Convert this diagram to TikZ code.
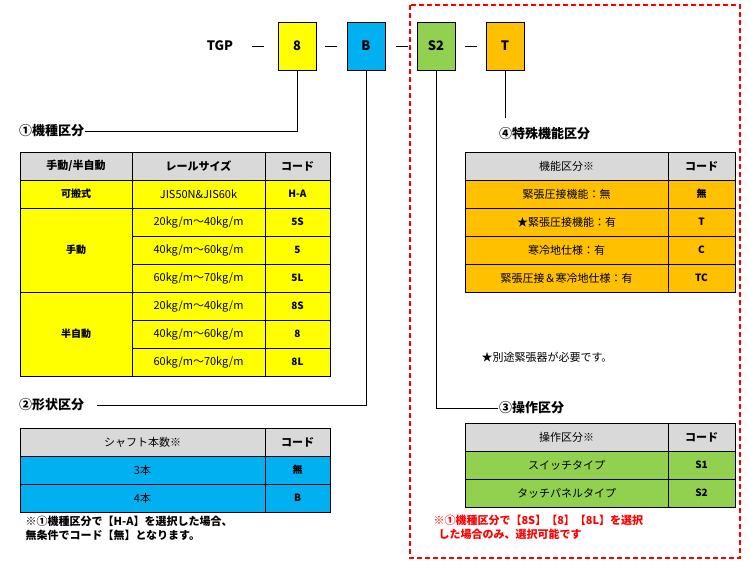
\documentclass[tikz,border=0pt]{standalone}
\usepackage{fontspec}
\setmainfont{Noto Sans CJK JP}
\usepackage{tikz}
\usetikzlibrary{positioning}
\definecolor{cyel}{HTML}{FFFF00}
\definecolor{cblu}{HTML}{00B0F0}
\definecolor{cgrn}{HTML}{92D050}
\definecolor{corg}{HTML}{FFC000}
\definecolor{cgry}{HTML}{D9D9D9}
\definecolor{cred}{HTML}{FF0000}
\begin{document}
\begin{tikzpicture}[
  x=1pt, y=-1pt,
  font=\fontsize{11}{13}\selectfont,
  code/.style={draw, minimum width=38pt, minimum height=48pt, inner sep=0, font=\fontsize{13}{15}\selectfont\bfseries},
  cell/.style={draw, minimum height=28pt, inner sep=0},
  head/.style={cell, fill=cgry, font=\fontsize{11}{13}\selectfont\bfseries},
  title/.style={font=\fontsize{13}{15}\selectfont\bfseries, inner sep=1pt},
  wire/.style={thick}
]
\useasboundingbox (0,0) rectangle (750,565);
% Red frame
\draw[cred, dash pattern=on 5pt off 3pt, line width=1.5pt] (410,5) rectangle (740,558);

% Model code
\node[font=\fontsize{13}{15}\selectfont\bfseries] (tgp) at (220,46) {TGP};
\node[code, fill=cyel] (c8) at (297,46) {8};
\node[code, fill=cblu] (cB) at (366,46) {B};
\node[code, fill=cgrn] (cS) at (436,46) {S2};
\node[code, fill=corg] (cT) at (505,46) {T};
\foreach \x in {258,331,402,471} \draw[thick] (\x-6,46) -- (\x+6,46);

% Titles
\node[title, anchor=west] (t1) at (18,131) {①機種区分};
\node[title, anchor=west] (t2) at (18,405) {②形状区分};
\node[title, anchor=west] (t3) at (498,408) {③操作区分};
\node[title, anchor=west] (t4) at (498,134) {④特殊機能区分};
\draw[wire] (c8.south) |- (t1.east);
\draw[wire] (cB.south) |- ([xshift=12pt]t2.east);
\draw[wire] (cS.south) |- (t3.west);
\draw[wire] (cT.south) -- ++(0,48) coordinate (tend);

% Table 1
\node[head, minimum width=112pt] (h11) at (76,166) {手動/半自動};
\node[head, minimum width=133pt] (h12) at (198.5,166) {レールサイズ};
\node[head, minimum width=65pt] (h13) at (297.5,166) {コード};
\node[cell, fill=cyel, minimum width=112pt, font=\bfseries] (k1) at (76,194) {可搬式};
\node[cell, fill=cyel, minimum width=133pt] (k2) at (198.5,194) {JIS50N\&JIS60k};
\node[cell, fill=cyel, minimum width=65pt, font=\bfseries] (k3) at (297.5,194) {H-A};
\node[cell, fill=cyel, minimum width=112pt, minimum height=84pt, font=\bfseries] (m1) at (76,250) {手動};
\node[cell, fill=cyel, minimum width=112pt, minimum height=84pt, font=\bfseries] (s1) at (76,334) {半自動};
\foreach \y/\r/\c in {222/{20kg/m～40kg/m}/5S, 250/{40kg/m～60kg/m}/5, 278/{60kg/m～70kg/m}/5L,
                      306/{20kg/m～40kg/m}/8S, 334/{40kg/m～60kg/m}/8, 362/{60kg/m～70kg/m}/8L} {
  \node[cell, fill=cyel, minimum width=133pt] at (198.5,\y) {\r};
  \node[cell, fill=cyel, minimum width=65pt, font=\bfseries] at (297.5,\y) {\c};
}

% Table 2
\node[head, minimum width=245pt, font=\fontsize{11}{13}\selectfont] (h21) at (142.5,442) {シャフト本数※};
\node[head, minimum width=65pt] (h22) at (297.5,442) {コード};
\node[cell, fill=cblu, minimum width=245pt] (r21) at (142.5,470) {3本};
\node[cell, fill=cblu, minimum width=65pt, font=\bfseries] (r22) at (297.5,470) {無};
\node[cell, fill=cblu, minimum width=245pt] (r31) at (142.5,498) {4本};
\node[cell, fill=cblu, minimum width=65pt, font=\bfseries] (r32) at (297.5,498) {B};
\node[anchor=north west, align=left, font=\fontsize{11}{14}\selectfont\bfseries] (n2) at (22,513)
  {※①機種区分で【H-A】を選択した場合、\\無条件でコード【無】となります。};

% Table 4
\node[head, minimum width=203pt, font=\fontsize{11}{13}\selectfont] (h41) at (566.5,166) {機能区分※};
\node[head, minimum width=67pt] (h42) at (701.5,166) {コード};
\foreach \y/\f/\c in {194/緊張圧接機能：無/無, 222/★緊張圧接機能：有/T, 250/寒冷地仕様：有/C, 278/緊張圧接＆寒冷地仕様：有/TC} {
  \node[cell, fill=corg, minimum width=203pt] at (566.5,\y) {\f};
  \node[cell, fill=corg, minimum width=67pt, font=\bfseries] at (701.5,\y) {\c};
}
\node[anchor=west] (n4) at (478,357) {★別途緊張器が必要です。};

% Table 3
\node[head, minimum width=203pt, font=\fontsize{11}{13}\selectfont] (h31) at (566.5,437) {操作区分※};
\node[head, minimum width=67pt] (h32) at (701.5,437) {コード};
\node[cell, fill=cgrn, minimum width=203pt] (o11) at (566.5,465) {スイッチタイプ};
\node[cell, fill=cgrn, minimum width=67pt, font=\bfseries] (o12) at (701.5,465) {S1};
\node[cell, fill=cgrn, minimum width=203pt] (o21) at (566.5,493) {タッチパネルタイプ};
\node[cell, fill=cgrn, minimum width=67pt, font=\bfseries] (o22) at (701.5,493) {S2};
\node[anchor=north west, align=left, text=cred, font=\fontsize{11}{14}\selectfont\bfseries] (n3) at (430,512)
  {※①機種区分で【8S】【8】【8L】を選択\\\ \ した場合のみ、選択可能です};
\end{tikzpicture}
\end{document}
